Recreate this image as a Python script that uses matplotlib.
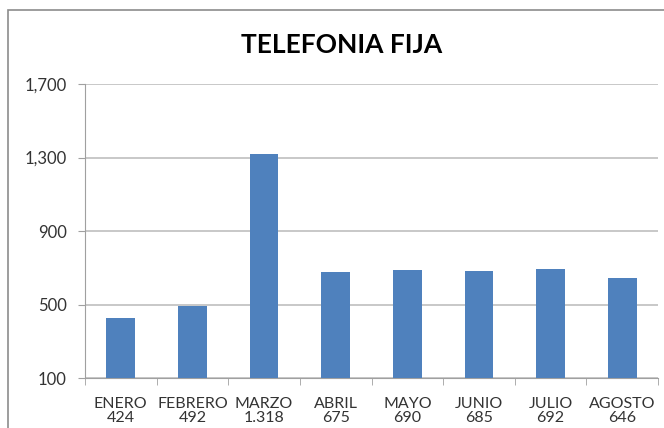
import matplotlib.pyplot as plt
import numpy as np
from matplotlib.patches import Rectangle

# data
months = ['ENERO', 'FEBRERO', 'MARZO', 'ABRIL', 'MAYO', 'JUNIO', 'JULIO', 'AGOSTO']
values = [424, 492, 1318, 675, 690, 685, 692, 646]
value_labels = ['424', '492', '1.318', '675', '690', '685', '692', '646']
y_ticks = [100, 500, 900, 1300, 1700]

plt.rcParams['font.family'] = ['Lato', 'DejaVu Sans']

fig = plt.figure(figsize=(6.64, 4.28), dpi=100)
ax = fig.add_axes([0.128, 0.1168, 0.863, 0.6869])

# outer chart frame
fig.patches.append(Rectangle((8 / 664, -0.1), 1.2, 1 - 10 / 428 + 0.1,
                             transform=fig.transFigure, fill=False,
                             edgecolor='#8c8c8c', linewidth=1.2))

x = np.arange(len(months))
ax.bar(x, values, width=0.4, color='#4f81bd', zorder=3)

ax.set_xlim(-0.5, len(months) - 0.5)
ax.set_ylim(100, 1700)
ax.set_yticks(y_ticks)
ax.set_yticklabels([f'{v:,}' for v in y_ticks], fontsize=12, color='#333333')
ax.yaxis.grid(True, color='#bfbfbf', linewidth=1.2, zorder=0)

ax.set_xticks(x)
ax.set_xticklabels([f'{m}\n{v}' for m, v in zip(months, value_labels)],
                   fontsize=11.5, color='#333333', linespacing=1.0)
ax.tick_params(axis='x', length=0, pad=14)
# tick marks between categories
ax.set_xticks(np.arange(len(months) + 1) - 0.5, minor=True)
ax.tick_params(axis='x', which='minor', length=5, color='#a0a0a0')
ax.tick_params(axis='y', length=5, color='#a0a0a0', pad=8)

for side in ['top', 'right']:
    ax.spines[side].set_visible(False)
ax.spines['left'].set_color('#a0a0a0')
ax.spines['bottom'].set_color('#a0a0a0')

fig.text(0.515, 0.895, 'TELEFONIA FIJA', ha='center', va='center',
         fontsize=19, fontweight='bold', color='black')

fig.savefig('out.png', dpi=100)
